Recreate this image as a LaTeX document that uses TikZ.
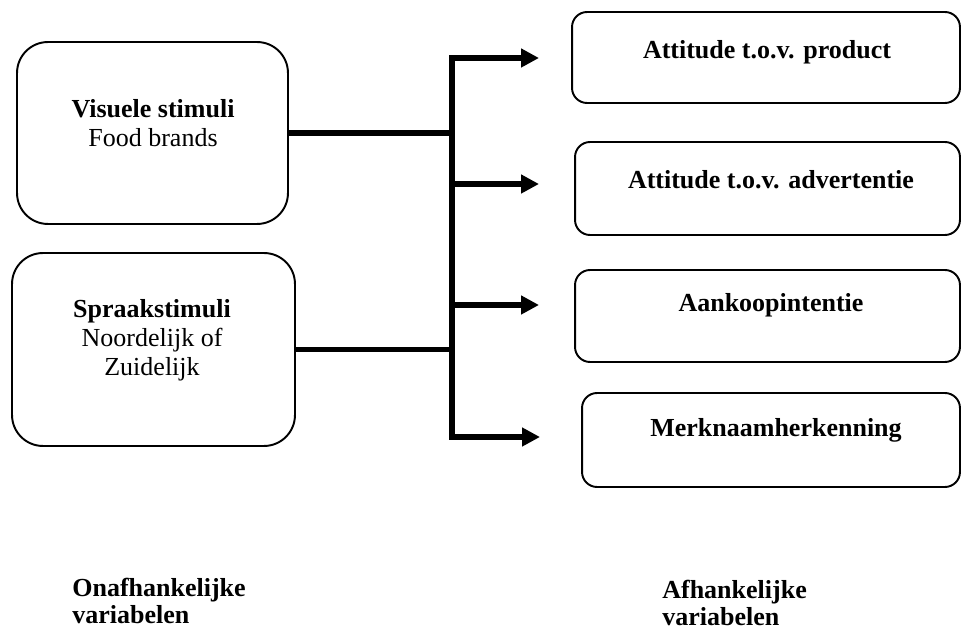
\documentclass[tikz,border=0pt]{standalone}
\usepackage{fontspec}
\setmainfont{Liberation Serif}
\usetikzlibrary{arrows.meta, positioning}

\begin{document}
\begin{tikzpicture}[
        x=0.02cm, y=-0.02cm,
        font=\fontsize{14.8pt}{16.5pt}\selectfont,
        box/.style={draw, line width=1.1pt, rounded corners=0.3cm, inner sep=0pt},
        bigbox/.style={box, rounded corners=0.62cm},
        txt/.style={align=center, inner sep=0pt},
        btxt/.style={txt, font=\fontsize{14.8pt}{16.5pt}\selectfont\bfseries},
        caption/.style={align=left, inner sep=0pt, anchor=north west, font=\fontsize{14.8pt}{15pt}\selectfont\bfseries},
        line/.style={line width=3.2pt},
        arr/.style={line, -{Triangle[length=0.36cm, width=0.36cm]}}
    ]
    \useasboundingbox (0,0) rectangle (961,628);

    % Left: independent variables
    \node[bigbox, minimum width=5.42cm, minimum height=3.64cm] (vis) at (152.5,133) {};
    \node[txt] (vistxt) at (153,123) {\textbf{Visuele stimuli}\\ Food brands};

    \node[bigbox, minimum width=5.66cm, minimum height=3.86cm] (spraak) at (153.5,349.5) {};
    \node[txt] (spraaktxt) at (152,340) {\textbf{Spraakstimuli}\\ Noordelijk of\\ Zuidelijk};

    % Right: dependent variables
    \node[box, minimum width=7.76cm, minimum height=1.82cm] (prod) at (766,57.5) {};
    \node[btxt] (prodtxt) at (767,52) {Attitude t.o.v. product};

    \node[box, minimum width=7.70cm, minimum height=1.86cm] (adv) at (767.5,188.5) {};
    \node[btxt] (advtxt) at (771,180) {Attitude t.o.v. advertentie};

    \node[box, minimum width=7.70cm, minimum height=1.84cm] (koop) at (767.5,316) {};
    \node[btxt] (kooptxt) at (771,305) {Aankoopintentie};

    \node[box, minimum width=7.56cm, minimum height=1.88cm] (merk) at (771,440) {};
    \node[btxt] (merktxt) at (776,430) {Merknaamherkenning};

    % Bottom captions
    \node[caption] (onafh) at (72,578) {Onafhankelijke\\ variabelen};
    \node[caption] (afh) at (662,580) {Afhankelijke\\ variabelen};

    % Trunk and arrow ends
    \coordinate (jtop) at (452,58);
    \coordinate (jbot) at (452,437);
    \coordinate (tprod) at (539,58);
    \coordinate (tadv) at (539,184);
    \coordinate (tkoop) at (539,305);
    \coordinate (tmerk) at (540,437);

    % Arrows
    \draw[line] (vis.east) -- (vis.east -| jtop);
    \draw[line] (spraak.east) -- (spraak.east -| jtop);

    \draw[arr] (jbot) -- (jtop) -- (tprod);
    \draw[arr] (jtop) -- (jbot) -- (tmerk);
    \draw[arr] (jtop |- tadv) -- (tadv);
    \draw[arr] (jtop |- tkoop) -- (tkoop);

\end{tikzpicture}
\end{document}
